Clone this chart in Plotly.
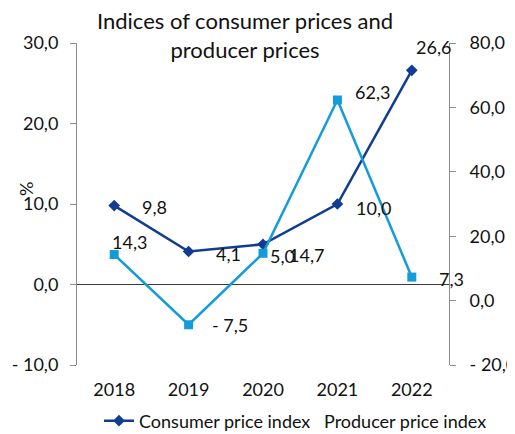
import plotly.graph_objects as go

years = ["2018", "2019", "2020", "2021", "2022"]
consumer = [9.8, 4.1, 5.0, 10.0, 26.6]
producer = [14.3, -7.5, 14.7, 62.3, 7.3]
consumer_labels = ["9,8", "4,1", "5,0", "10,0", "26,6"]
producer_labels = ["14,3", "- 7,5", "14,7", "62,3", "7,3"]
left_ticks = [-10, 0, 10, 20, 30]
left_ticktext = ["- 10,0", "0,0", "10,0", "20,0", "30,0"]
right_ticks = [-20, 0, 20, 40, 60, 80]
right_ticktext = ["- 20,0", "0,0", "20,0", "40,0", "60,0", "80,0"]

# label offsets in pixels (dx right, dy up)
consumer_off = [(26, -1), (25, -2), (5, -12), (17, -4), (2, 23)]
producer_off = [(-4, 13), (21, 0), (24, -2), (16, 8), (25, -2)]

DARK = "#103D92"
LIGHT = "#149BDA"
FONT = "Lato"
OFF = 8  # page body margin
W, H = 515 - OFF, 434 - OFF
# plot area in reference-page pixels
L, R, T, B = 77, 449, 43, 365

fig = go.Figure()
fig.add_trace(go.Scatter(
    x=years, y=consumer, name="Consumer price index", mode="lines+markers",
    line=dict(color=DARK, width=2.5),
    marker=dict(symbol="diamond", size=9, color=DARK), yaxis="y"))
fig.add_trace(go.Scatter(
    x=years, y=producer, name="Producer price index", mode="lines+markers",
    line=dict(color=LIGHT, width=2.5),
    marker=dict(symbol="square", size=9, color=LIGHT), yaxis="y2",
    showlegend=False))

ann = []
for i, (y, t, (dx, dy)) in enumerate(zip(consumer, consumer_labels, consumer_off)):
    ann.append(dict(x=i, y=y, xref="x", yref="y", text=t, showarrow=False,
                    xanchor="left", yanchor="middle", xshift=dx, yshift=dy,
                    font=dict(family=FONT, size=18, color="#111")))
for i, (y, t, (dx, dy)) in enumerate(zip(producer, producer_labels, producer_off)):
    ann.append(dict(x=i, y=y, xref="x", yref="y2", text=t, showarrow=False,
                    xanchor="left", yanchor="middle", xshift=dx, yshift=dy,
                    font=dict(family=FONT, size=18, color="#111")))

def px(p):
    return (p - L) / (R - L)

def py(p):
    return (B - p) / (B - T)

# title
ann.append(dict(x=px(245), y=py(35), xref="paper", yref="paper",
                text="Indices of consumer prices and<br>producer prices",
                showarrow=False, xanchor="center", yanchor="middle", borderpad=0,
                font=dict(family=FONT, size=22, color="#111")))
# % axis title
ann.append(dict(x=px(26), y=py(189), xref="paper", yref="paper", text="%",
                textangle=-90, showarrow=False, xanchor="center", yanchor="middle",
                font=dict(family=FONT, size=18, color="#111")))
# second legend entry text
ann.append(dict(x=px(322), y=py(421), xref="paper", yref="paper",
                text="Producer price index", showarrow=False,
                xanchor="left", yanchor="middle",
                font=dict(family=FONT, size=18, color="#111")))

fig.update_layout(
    width=W, height=H,
    margin=dict(l=L - OFF, r=515 - R, t=T - OFF, b=434 - B, autoexpand=False),
    paper_bgcolor="white", plot_bgcolor="white",
    separators=", ",
    font=dict(family=FONT, size=18, color="#111"),
    showlegend=True,
    legend=dict(orientation="h", x=px(99), y=py(421), xanchor="left",
                yanchor="middle", font=dict(family=FONT, size=18, color="#111"),
                bgcolor="rgba(0,0,0,0)"),
    xaxis=dict(type="category", range=[-0.5, 4.5], showgrid=False,
               showline=False, ticks="", ticklabelstandoff=12,
               tickfont=dict(family=FONT, size=18, color="#111"), zeroline=False),
    yaxis=dict(range=[-10, 30], tickvals=left_ticks, ticktext=left_ticktext,
               showgrid=False, showline=True, linecolor="#8c8c8c", linewidth=1,
               ticks="outside", ticklen=6, tickcolor="#8c8c8c",
               zeroline=True, zerolinecolor="#3a3a3a", zerolinewidth=1,
               ticklabelstandoff=8,
               tickfont=dict(family=FONT, size=18, color="#111")),
    yaxis2=dict(range=[-20, 80], tickvals=right_ticks, ticktext=right_ticktext,
                overlaying="y", side="right", showgrid=False, showline=True,
                linecolor="#8c8c8c", linewidth=1, ticks="outside", ticklen=6,
                tickcolor="#8c8c8c", zeroline=False, ticklabelstandoff=10,
                tickfont=dict(family=FONT, size=18, color="#111")),
    annotations=ann,
)

fig.write_html("out.html")
